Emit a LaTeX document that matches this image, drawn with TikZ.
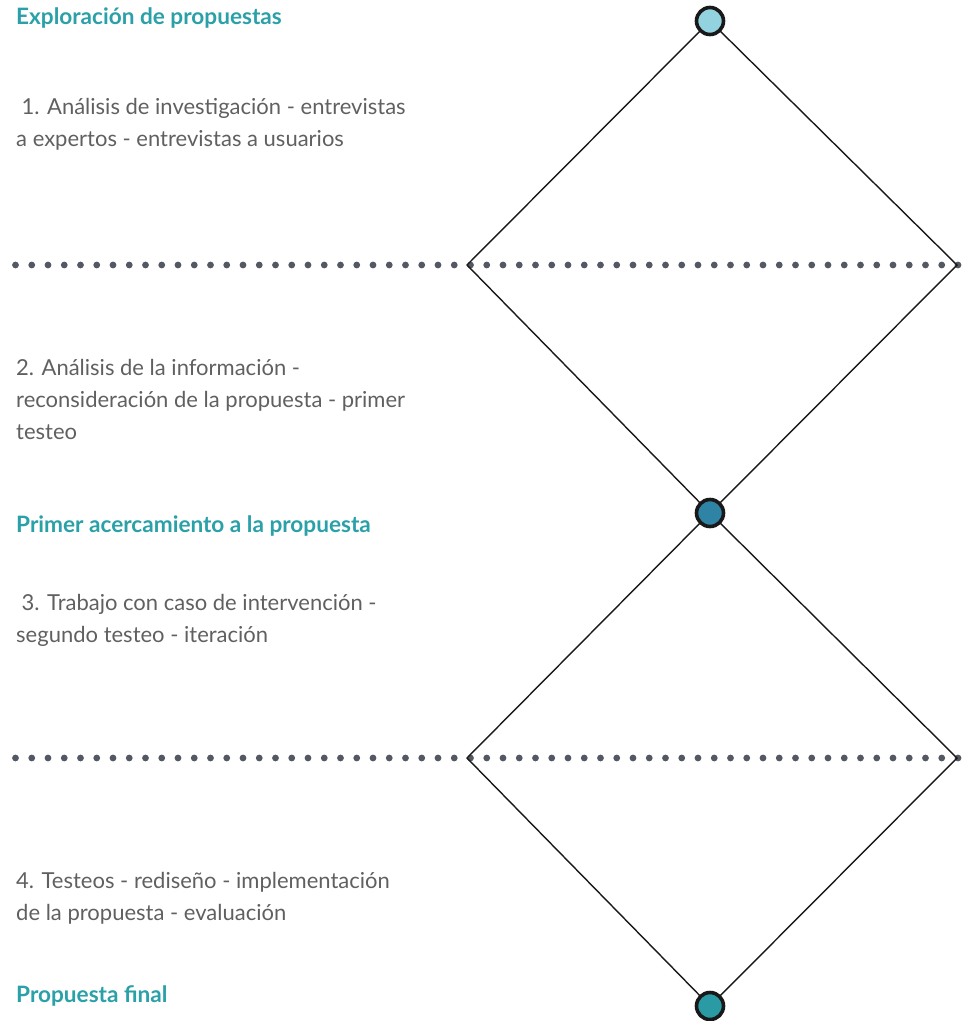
\documentclass[tikz,border=0pt]{standalone}
\usepackage{fontspec}
\setmainfont{Lato}
\definecolor{headc}{HTML}{2AA0A8}
\definecolor{bodyc}{HTML}{606060}
\definecolor{dotc}{HTML}{535862}
\definecolor{c1}{HTML}{93D2DF}
\definecolor{c2}{HTML}{2F84A6}
\definecolor{c3}{HTML}{2A9BA5}
\tikzset{
  head/.style={anchor=base west,inner sep=0pt,text=headc,font=\fontsize{22.6}{26}\selectfont\bfseries},
  body/.style={anchor=base west,inner sep=0pt,text=bodyc,align=left,font=\fontsize{22}{32}\selectfont},
  stage/.style={circle,draw=black!90,line width=3.6pt,minimum size=27pt,inner sep=0pt},
  edge/.style={draw=black!90,line width=1.4pt},
}
\begin{document}
\begin{tikzpicture}[x=1pt,y=-1pt]
\useasboundingbox (0,0) rectangle (973,1021);
% dotted rows
\foreach \yy in {265,758}{
  \foreach \i in {0,...,58}{
    \fill[dotc] ({15.5+\i*16.25},\yy) circle (3.4);
  }
}
\coordinate (L1) at (467,265);
\coordinate (R1) at (957,265);
\coordinate (L2) at (467,758);
\coordinate (R2) at (957,758);
\coordinate (T) at (710,21);
\coordinate (M) at (710,513);
\coordinate (B) at (710,1006);
\draw[edge] (T) -- (L1) -- (M) -- (R1) -- cycle;
\draw[edge] (M) -- (L2) -- (B) -- (R2) -- cycle;
\node[stage,fill=c1] (top) at (T) {};
\node[stage,fill=c2] (mid) at (M) {};
\node[stage,fill=c3] (bot) at (B) {};
% texts (base anchor = last line baseline)
\node[head] (h1) at (16,24) {Exploración de propuestas};
\node[body] (t1) at (16,146) {\hspace*{0.25em}1. Análisis de investigación - entrevistas\\a expertos - entrevistas a usuarios};
\node[body] (t2) at (16,439) {2. Análisis de la información -\\reconsideración de la propuesta - primer\\testeo};
\node[head] (h2) at (16,532) {Primer acercamiento a la propuesta};
\node[body] (t3) at (16,642) {\hspace*{0.25em}3. Trabajo con caso de intervención -\\segundo testeo - iteración};
\node[body] (t4) at (16,920) {4. Testeos - rediseño - implementación\\de la propuesta - evaluación};
\node[head] (h3) at (16,1002) {Propuesta final};
\end{tikzpicture}
\end{document}
